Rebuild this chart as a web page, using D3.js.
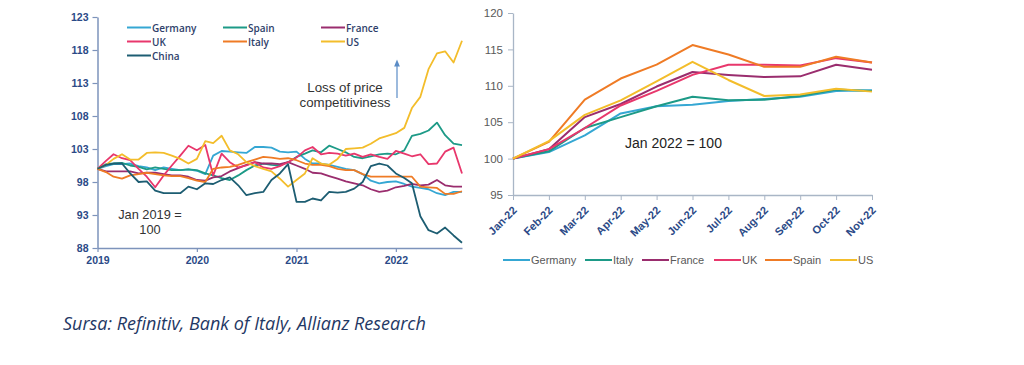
<!DOCTYPE html>
<html><head><meta charset="utf-8">
<script src="https://cdn.jsdelivr.net/npm/d3@7"></script>
<style>
html,body{margin:0;padding:0;background:#fff;}
svg{display:block;font-family:"Liberation Sans",Arial,sans-serif;}
</style></head>
<body>
<svg id="c" width="1024" height="365"></svg>
<script>
// ---------- Left chart data (monthly, Jan 2019 .. Sep 2022) ----------
const leftStart = new Date(2019, 0, 1);
const leftYTicks = [88, 93, 98, 103, 108, 113, 118, 123];
const leftXTicks = ["2019", "2020", "2021", "2022"];
const leftSeriesNames = ["Germany", "Spain", "France", "UK", "Italy", "US", "China"];
const germanyL = [100,100.4,100.7,100.7,100.8,100.4,100.2,99.8,100.2,100.0,99.8,99.9,99.7,99.2,102.0,102.7,102.6,102.5,102.4,103.3,103.3,103.2,102.6,102.5,102.6,101.5,100.8,100.8,100.6,100.3,100.0,99.8,99.2,98.2,97.8,98.0,98.1,97.7,97.3,97.1,96.9,96.3,96.0,96.5,96.5];
const spainL = [100,100.7,100.8,100.9,100.5,100.3,99.9,100.2,100.0,99.8,99.8,99.9,99.8,99.3,99.0,98.6,98.3,99.0,99.8,100.5,100.8,100.6,100.5,101.0,101.8,102.3,102.8,102.5,103.5,103.0,102.5,101.8,101.6,101.9,102.2,102.3,102.2,102.8,105.0,105.3,105.8,107.0,105.1,103.8,103.6];
const franceL = [100,99.6,99.6,99.6,99.6,99.3,99.4,99.4,99.2,99.0,99.0,98.8,98.3,98.2,98.7,98.9,99.6,100.1,100.6,101.0,100.8,100.8,100.7,101.0,100.5,100.0,99.4,99.3,98.9,98.5,98.1,97.8,97.5,96.9,96.5,96.7,97.2,97.4,97.7,97.5,97.6,98.3,97.5,97.3,97.3];
const ukL = [100,101.2,102.2,101.6,101.3,100.0,98.8,97.2,99.0,100.5,102.0,103.5,102.8,103.6,99.0,102.3,101.0,100.2,100.5,101.0,100.2,100.0,100.4,101.0,101.7,102.8,103.3,102.2,102.4,102.3,102.0,102.3,101.8,102.2,101.8,101.5,102.7,102.3,101.9,102.2,100.7,100.8,102.6,103.2,99.3];
const italyL = [100,99.5,98.8,98.5,99.0,99.2,99.4,99.2,99.0,98.9,98.9,98.6,98.2,98.0,100.0,100.2,100.3,100.6,101.0,101.4,101.8,101.7,101.5,101.6,101.3,100.8,100.6,100.6,100.4,100.0,99.8,99.8,99.2,98.8,98.8,98.8,98.8,98.8,98.8,97.3,97.2,97.1,96.2,96.2,96.6];
const usL = [100,100.6,101.5,102.2,101.4,101.4,102.4,102.5,102.4,102.0,101.5,100.8,101.5,104.2,103.9,105.0,102.8,102.2,101.0,100.4,100.0,99.6,98.5,97.3,98.3,99.3,101.6,100.8,100.6,101.5,103.0,103.1,103.2,103.8,104.6,105.0,105.4,106.2,109.2,110.9,115.1,117.5,117.8,116.1,119.4];
const chinaL = [100,100.6,100.8,100.8,99.3,98.0,98.1,96.7,96.3,96.3,96.3,97.3,96.9,97.8,97.7,98.3,98.7,97.5,96.0,96.3,96.5,98.3,99.3,100.7,95.0,95.0,95.5,95.2,96.5,96.4,96.5,97.0,98.0,100.4,100.8,100.5,99.3,98.6,97.8,92.8,90.7,90.2,91.1,89.9,88.8];
const leftColors = ["#35a7d3", "#1d9a87", "#9a2d6e", "#e8376c", "#ef7b25", "#f3bd2b", "#1d5d72"];

// ---------- Right chart data (monthly, Jan 2022 .. Nov 2022) ----------
const rightCats = ["Jan-22","Feb-22","Mar-22","Apr-22","May-22","Jun-22","Jul-22","Aug-22","Sep-22","Oct-22","Nov-22"];
const rightYTicks = [95, 100, 105, 110, 115, 120];
const rightSeriesNames = ["Germany", "Italy", "France", "UK", "Spain", "US"];
const germanyR = [100,100.9,103.2,106.2,107.2,107.4,107.9,108.2,108.5,109.3,109.4];
const italyR = [100,101.0,104.2,105.7,107.2,108.5,108.0,108.1,108.6,109.5,109.3];
const franceR = [100,101.3,105.7,107.5,109.9,111.9,111.5,111.2,111.3,112.9,112.2];
const ukR = [100,101.3,104.2,107.3,109.3,111.5,112.9,112.9,112.8,113.8,113.2];
const spainR = [100,102.3,108.1,111.0,112.9,115.6,114.3,112.6,112.6,114.0,113.2];
const usR = [100,102.4,106.0,108.0,110.6,113.3,110.8,108.6,108.8,109.6,109.2];
const rightColors = ["#35a7d3", "#1d9a87", "#9a2d6e", "#e8376c", "#ef7b25", "#f3bd2b"];

const svg = d3.select("#c");

// ================= LEFT CHART =================
{
  const series = [germanyL, spainL, franceL, ukL, italyL, usL, chinaL];
  const n = germanyL.length;
  const dates = d3.range(n).map(i => new Date(2019, i, 1));
  const x = d3.scaleTime().domain([leftStart, new Date(2022, 8, 1)]).range([97.5, 462]);
  const y = d3.scaleLinear().domain([88, 123]).range([248, 17]);
  const axisCol = "#7d93bb";
  const labCol = "#2b4a87";

  const yAx = svg.append("g").attr("transform", "translate(97.5,0)")
    .call(d3.axisLeft(y).tickValues(leftYTicks).tickSize(5).tickSizeOuter(0).tickFormat(d3.format("d")));
  yAx.select(".domain").attr("stroke", axisCol).attr("stroke-width", 1.5);
  yAx.selectAll(".tick line").attr("stroke", axisCol).attr("stroke-width", 1.2);
  yAx.selectAll("text").attr("fill", labCol).attr("font-size", 10.5).attr("font-weight", "bold").attr("x", -9);

  const xAx = svg.append("g").attr("transform", "translate(0,248)")
    .call(d3.axisBottom(x).tickValues(leftXTicks.map(t => new Date(+t, 0, 1))).tickSize(4).tickSizeOuter(0).tickFormat(d3.timeFormat("%Y")));
  xAx.select(".domain").attr("stroke", axisCol).attr("stroke-width", 1.5);
  xAx.selectAll(".tick line").attr("stroke", axisCol).attr("stroke-width", 1.2);
  xAx.selectAll("text").attr("fill", labCol).attr("font-size", 10.5).attr("font-weight", "bold").attr("dy", "0.85em");

  const line = d3.line().x((d, i) => x(dates[i])).y(d => y(d));
  series.forEach((s, k) => {
    svg.append("path").attr("d", line(s)).attr("fill", "none")
      .attr("stroke", leftColors[k]).attr("stroke-width", 1.8).attr("stroke-linejoin", "round");
  });

  // legend
  const colX = [127, 223, 321];
  const rowY = [27.5, 41.5, 55.5];
  leftSeriesNames.forEach((nm, k) => {
    const cx = colX[k % 3], cy = rowY[Math.floor(k / 3)];
    svg.append("line").attr("x1", cx).attr("x2", cx + 24).attr("y1", cy).attr("y2", cy)
      .attr("stroke", leftColors[k]).attr("stroke-width", 2);
    svg.append("text").attr("x", cx + 25).attr("y", cy + 4).text(nm)
      .attr("font-family", "'Open Sans', sans-serif").attr("font-size", 10).attr("font-weight", 600).attr("fill", "#2f3f6b");
  });

  // annotation
  svg.append("defs").append("marker").attr("id", "ah").attr("viewBox", "0 0 10 10")
    .attr("refX", 5).attr("refY", 5).attr("markerWidth", 6).attr("markerHeight", 6).attr("orient", "auto")
    .append("path").attr("d", "M0,1 L10,5 L0,9 z").attr("fill", "#5b8cc6");
  svg.append("line").attr("x1", 397).attr("x2", 397).attr("y1", 98).attr("y2", 63)
    .attr("stroke", "#5b8cc6").attr("stroke-width", 1.2).attr("marker-end", "url(#ah)");
  svg.append("text").attr("x", 345).attr("y", 92).attr("text-anchor", "middle").attr("font-size", 13.3).attr("fill", "#333").text("Loss of price");
  svg.append("text").attr("x", 345).attr("y", 107).attr("text-anchor", "middle").attr("font-size", 13.3).attr("fill", "#333").text("competitiviness");
  svg.append("text").attr("x", 150).attr("y", 219).attr("text-anchor", "middle").attr("font-size", 12.8).attr("fill", "#333").text("Jan 2019 =");
  svg.append("text").attr("x", 150).attr("y", 234).attr("text-anchor", "middle").attr("font-size", 12.8).attr("fill", "#333").text("100");
}

// ================= RIGHT CHART =================
{
  const series = [germanyR, italyR, franceR, ukR, spainR, usR];
  const x = d3.scalePoint().domain(rightCats).range([513, 872]);
  const y = d3.scaleLinear().domain([95, 120]).range([195, 13]);
  const axisCol = "#a9b6c6";

  const yAx = svg.append("g").attr("transform", "translate(513,0)")
    .call(d3.axisLeft(y).tickValues(rightYTicks).tickSize(5).tickSizeOuter(0));
  yAx.select(".domain").attr("stroke", axisCol).attr("stroke-width", 1.3);
  yAx.selectAll(".tick line").attr("stroke", axisCol);
  yAx.selectAll("text").attr("fill", "#595959").attr("font-size", 11.5).attr("x", -10);

  const xAx = svg.append("g").attr("transform", "translate(0,195)")
    .call(d3.axisBottom(x).tickSize(5).tickSizeOuter(0));
  xAx.select(".domain").attr("stroke", axisCol).attr("stroke-width", 1.3);
  xAx.selectAll(".tick line").attr("stroke", axisCol);
  xAx.selectAll("text").attr("fill", "#2b4a87").attr("font-size", 11).attr("font-weight", "bold")
    .attr("text-anchor", "end").attr("dy", 0).attr("y", 0)
    .attr("transform", "translate(4,16) rotate(-45)");

  const line = d3.line().x((d, i) => x(rightCats[i])).y(d => y(d));
  series.forEach((s, k) => {
    svg.append("path").attr("d", line(s)).attr("fill", "none")
      .attr("stroke", rightColors[k]).attr("stroke-width", 2).attr("stroke-linejoin", "round");
  });

  svg.append("text").attr("x", 625).attr("y", 148).attr("font-size", 14).attr("fill", "#222").text("Jan 2022 = 100");

  const legX = [503, 585, 642, 714, 765, 830];
  rightSeriesNames.forEach((nm, k) => {
    svg.append("line").attr("x1", legX[k]).attr("x2", legX[k] + 27).attr("y1", 260).attr("y2", 260)
      .attr("stroke", rightColors[k]).attr("stroke-width", 2);
    svg.append("text").attr("x", legX[k] + 28).attr("y", 264).text(nm)
      .attr("font-size", 11).attr("fill", "#595959");
  });
}

// source
svg.append("text").attr("x", 63).attr("y", 330)
  .attr("font-family", "'Open Sans', sans-serif").attr("font-style", "italic").attr("font-size", 18)
  .attr("fill", "#1f3864").text("Sursa: Refinitiv, Bank of Italy, Allianz Research");
</script>
</body></html>
